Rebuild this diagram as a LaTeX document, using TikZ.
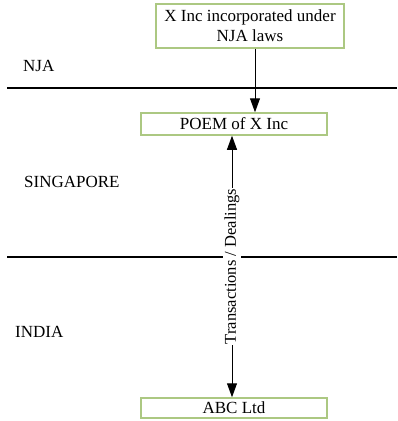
\documentclass[tikz,border=0pt]{standalone}
\usepackage{fontspec}
\setmainfont{Liberation Serif}
\usetikzlibrary{arrows.meta}
\begin{document}
\begin{tikzpicture}[x=1pt,y=1pt,
  every node/.style={font=\rmfamily\fontsize{17}{20}\selectfont},
  entity/.style={draw={rgb,255:red,172;green,200;blue,130}, line width=1.5pt,
    inner sep=0pt, align=center},
  region/.style={anchor=west, inner sep=0pt},
  border/.style={line width=1.1pt},
  tip/.tip={Triangle[width=10pt,length=14pt]},
  arr/.style={line width=1pt, -tip},
  dbl/.style={line width=1pt, tip-tip}]
\useasboundingbox (0,0) rectangle (397,-421);

% jurisdiction boundaries
\coordinate (b1l) at (7,-88);  \coordinate (b1r) at (397,-88);
\coordinate (b2l) at (7,-257); \coordinate (b2r) at (397,-257);
\draw[border] (b1l) -- (b1r);
\draw[border] (b2l) -- (b2r);

% jurisdiction names
\node[region] (nja) at (23,-66) {NJA};
\node[region] (sg) at (24,-182) {SINGAPORE};
\node[region] (ind) at (15,-332) {INDIA};

% entities
\node[entity, minimum width=188pt, minimum height=44pt] (xinc) at (250,-26)
  {X Inc incorporated under\\NJA laws};
\node[entity, minimum width=186pt, minimum height=22pt] (poem) at (234,-124) {POEM of X Inc};
\node[entity, minimum width=186pt, minimum height=20pt] (abc) at (234,-408) {ABC Ltd};

% connectors
\coordinate (ax) at (255,0);
\coordinate (tx) at (232,0);
\draw[arr] (xinc.south -| ax) -- (poem.north -| ax);
\draw[dbl] (poem.south -| tx) -- node[fill=white, rotate=90, inner sep=1pt,
  font=\rmfamily\fontsize{16.5}{20}\selectfont] (tlabel) {Transactions / Dealings} (abc.north -| tx);
\end{tikzpicture}
\end{document}
